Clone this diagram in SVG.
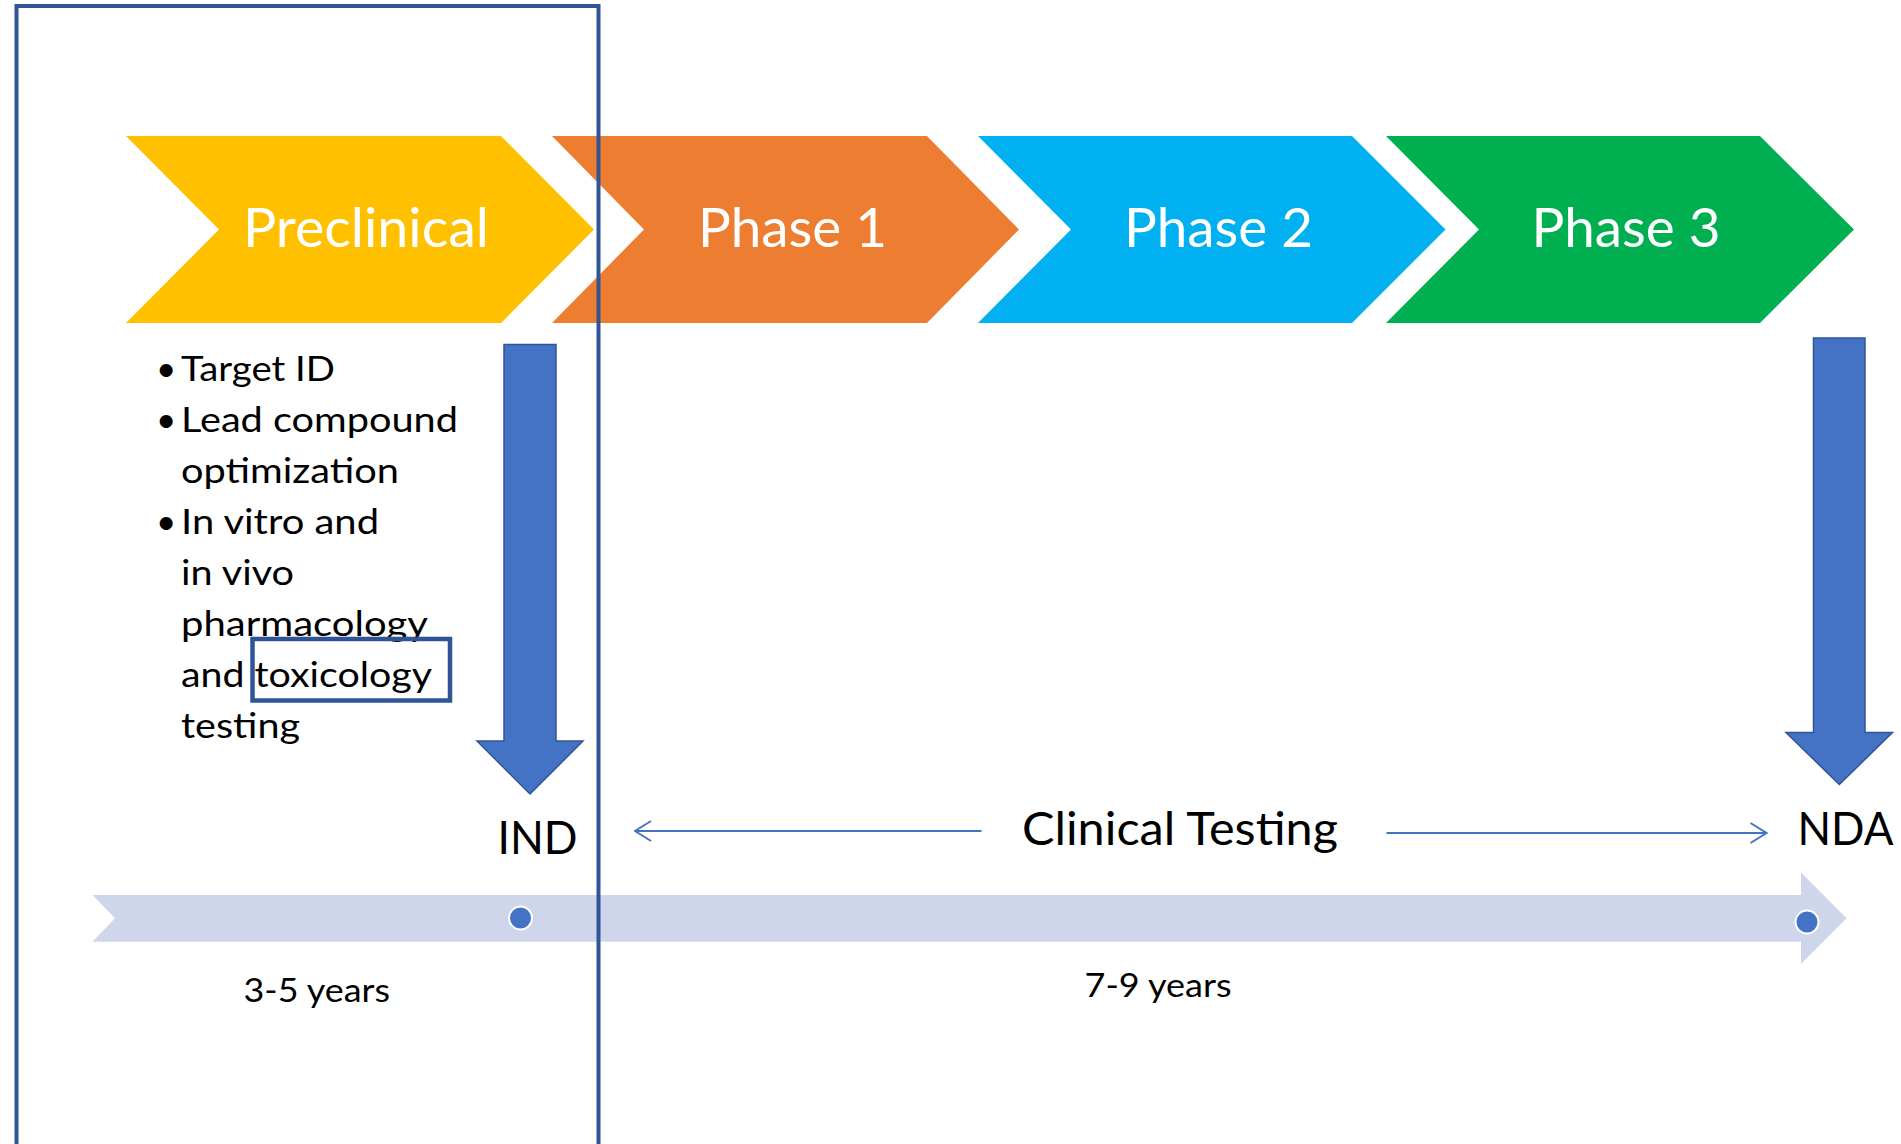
<svg xmlns="http://www.w3.org/2000/svg" width="1901" height="1144" viewBox="0 0 1901 1144">
  <style>
    .chev-label { font-family: Lato, "Open Sans", "Liberation Sans", sans-serif; font-weight: 400; font-size: 54px; fill: #ffffff; }
    .body { font-family: Lato, "Open Sans", "Liberation Sans", sans-serif; font-size: 35px; fill: #000000; }
    .big { font-family: Lato, "Open Sans", "Liberation Sans", sans-serif; font-size: 46.5px; fill: #000000; }
    .years { font-family: Lato, "Open Sans", "Liberation Sans", sans-serif; font-size: 33px; fill: #000000; }
    .block-arrow { fill: #4472C4; stroke: #2F5597; stroke-width: 1.5; }
    .frame { fill: none; stroke: #2F5597; stroke-width: 4; }
    .span-line { stroke: #4472C4; stroke-width: 2; fill: none; }
    .milestone { fill: #4472C4; stroke: #ffffff; stroke-width: 2; }
  </style>
  <defs>
    <marker id="open-head" markerUnits="userSpaceOnUse" viewBox="0 0 18 22" markerWidth="18" markerHeight="22" refX="17" refY="11" orient="auto">
      <path d="M1,1 L17,11 L1,21" fill="none" stroke="#4472C4" stroke-width="2"/>
    </marker>
  </defs>

  <rect width="1901" height="1144" fill="#ffffff"/>

  <!-- Phase chevrons -->
  <g id="node-preclinical">
    <polygon points="126,136 501,136 594,229.5 501,323 126,323 219,229.5" fill="#FFC000"/>
    <text class="chev-label" x="243" y="247" textLength="246" lengthAdjust="spacingAndGlyphs">Preclinical</text>
  </g>
  <g id="node-phase1">
    <polygon points="552,136 927,136 1019,229.5 927,323 552,323 644,229.5" fill="#ED7D31"/>
    <text class="chev-label" x="698" y="247" textLength="189" lengthAdjust="spacingAndGlyphs">Phase 1</text>
  </g>
  <g id="node-phase2">
    <polygon points="978,136 1352,136 1445.5,229.5 1352,323 978,323 1071,229.5" fill="#00B0F0"/>
    <text class="chev-label" x="1124" y="247" textLength="189" lengthAdjust="spacingAndGlyphs">Phase 2</text>
  </g>
  <g id="node-phase3">
    <polygon points="1386,136 1760,136 1854,229.5 1760,323 1386,323 1479,229.5" fill="#00B050"/>
    <text class="chev-label" x="1531.5" y="247" textLength="189" lengthAdjust="spacingAndGlyphs">Phase 3</text>
  </g>

  <!-- Preclinical activities -->
  <g id="node-preclinical-activities">
    <text class="body" x="156" y="381">•</text>
    <text class="body" x="156" y="432">•</text>
    <text class="body" x="156" y="534">•</text>
    <text class="body" x="181" y="381" textLength="154" lengthAdjust="spacingAndGlyphs">Target ID</text>
    <text class="body" x="181" y="432" textLength="277" lengthAdjust="spacingAndGlyphs">Lead compound</text>
    <text class="body" x="181" y="483" textLength="218" lengthAdjust="spacingAndGlyphs">optimization</text>
    <text class="body" x="181" y="534" textLength="198" lengthAdjust="spacingAndGlyphs">In vitro and</text>
    <text class="body" x="181" y="585" textLength="113" lengthAdjust="spacingAndGlyphs">in vivo</text>
    <text class="body" x="181" y="636" textLength="247" lengthAdjust="spacingAndGlyphs">pharmacology</text>
    <text class="body" x="181" y="687" textLength="251" lengthAdjust="spacingAndGlyphs">and toxicology</text>
    <text class="body" x="181" y="738" textLength="119" lengthAdjust="spacingAndGlyphs">testing</text>
  </g>

  <!-- Highlight around "toxicology" -->
  <g id="node-toxicology-highlight">
    <rect x="252.5" y="639" width="197.5" height="61.5" fill="none" stroke="#2F5597" stroke-width="4.5"/>
  </g>

  <!-- IND milestone arrow -->
  <g id="node-ind">
    <polygon class="block-arrow" points="504,344.5 556,344.5 556,741 583,741 530,794 477,741 504,741"/>
    <text class="big" x="497.5" y="854" textLength="80" lengthAdjust="spacingAndGlyphs">IND</text>
  </g>

  <!-- NDA milestone arrow -->
  <g id="node-nda">
    <polygon class="block-arrow" points="1813.5,338 1865,338 1865,732.5 1892.5,732.5 1839.3,784.5 1786,732.5 1813.5,732.5"/>
    <text class="big" x="1797.5" y="845" textLength="96" lengthAdjust="spacingAndGlyphs">NDA</text>
  </g>

  <!-- Clinical testing label -->
  <g id="node-clinical-testing">
    <text class="big" x="1022" y="845" textLength="316" lengthAdjust="spacingAndGlyphs">Clinical Testing</text>
  </g>

  <!-- Span arrows either side of the clinical testing label -->
  <g id="connectors">
    <line class="span-line" x1="981.5" y1="831" x2="635" y2="831" marker-end="url(#open-head)"/>
    <line class="span-line" x1="1386.5" y1="833" x2="1766.5" y2="833" marker-end="url(#open-head)"/>
  </g>

  <!-- Timeline -->
  <g id="node-timeline">
    <polygon points="92.5,895 1801,895 1801,872.5 1846.5,918.3 1801,964 1801,941.7 92.5,941.7 115,918.3" fill="#CFD5EA"/>
    <circle class="milestone" cx="520.5" cy="918" r="11.5"/>
    <circle class="milestone" cx="1807" cy="922" r="11.5"/>
  </g>

  <!-- Duration labels -->
  <g id="node-duration-preclinical">
    <text class="years" x="243.5" y="1001.5" textLength="146.5" lengthAdjust="spacingAndGlyphs">3-5 years</text>
  </g>
  <g id="node-duration-clinical">
    <text class="years" x="1084.5" y="996.5" textLength="147" lengthAdjust="spacingAndGlyphs">7-9 years</text>
  </g>

  <!-- Frame around the preclinical stage -->
  <g id="node-preclinical-frame">
    <rect class="frame" x="16.5" y="6" width="582" height="1150"/>
  </g>
</svg>
